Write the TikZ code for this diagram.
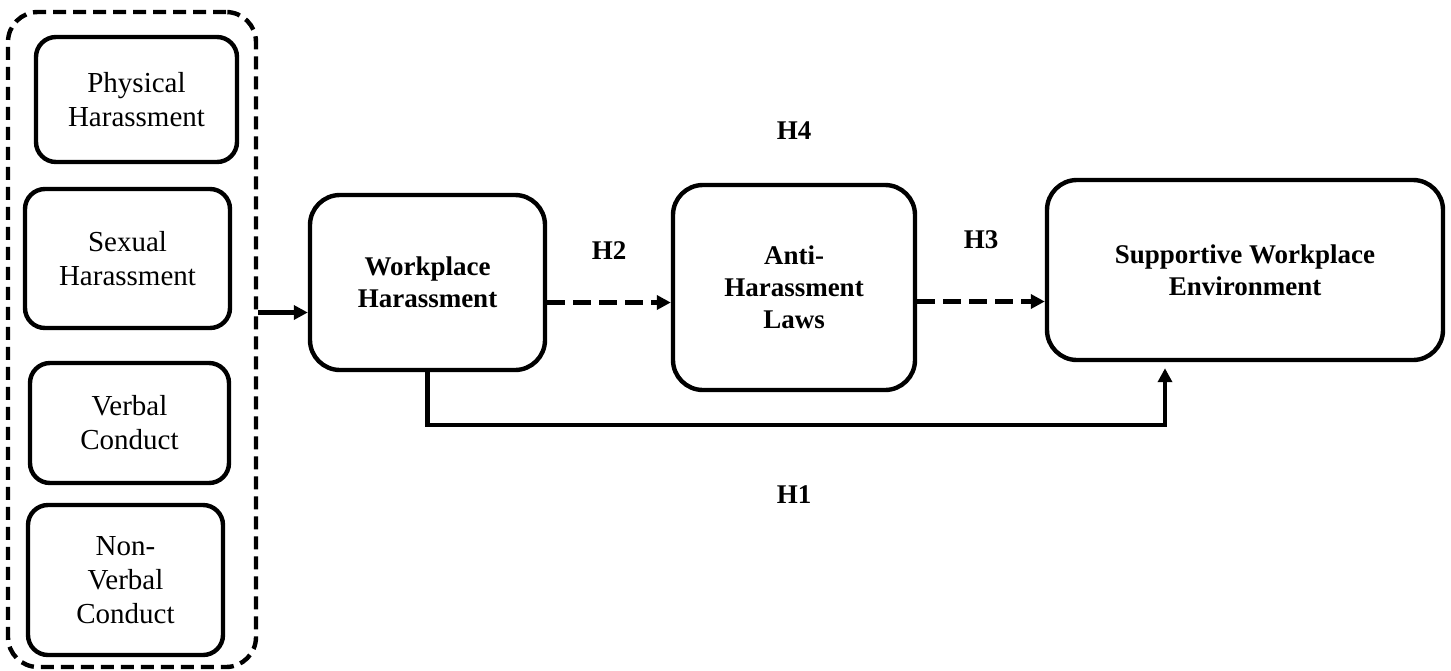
\documentclass[tikz,border=0pt]{standalone}
\usepackage{fontspec}
\setmainfont{Liberation Serif}
\usetikzlibrary{positioning,arrows.meta}

\tikzset{
	itembox/.style={draw, line width=2.2pt, rounded corners=10pt, align=center,
		inner sep=2pt, font=\fontsize{14.5}{17}\selectfont},
	mainbox/.style={draw, line width=2.2pt, rounded corners=15pt, align=center,
		inner sep=2pt, font=\fontsize{13.5}{16}\selectfont\bfseries},
	hyp/.style={font=\fontsize{13.5}{16}\selectfont\bfseries, inner sep=0.5pt},
}

\begin{document}
\begin{tikzpicture}[x=0.5pt, y=-0.5pt, line width=2.2pt, >={Triangle[length=7pt,width=7pt]}]
		\useasboundingbox (0,0) rectangle (1451,670);
		% grouped forms of harassment
		\node[draw, dash pattern=on 6.5pt off 3.5pt, rounded corners=15pt,
			minimum width=124pt, minimum height=327.5pt] (grp) at (132,339.5) {};
		\node[itembox, minimum width=100.5pt, minimum height=62.5pt] (phys) at (136.5,99.5) {Physical\\Harassment};
		\node[itembox, minimum width=102.5pt, minimum height=69.5pt] (sex) at (127.5,258.5) {Sexual\\Harassment};
		\node[itembox, minimum width=99.5pt, minimum height=60pt] (verb) at (129.5,423) {Verbal\\Conduct};
		\node[itembox, minimum width=97.5pt, minimum height=75pt] (nonverb) at (125.5,580) {Non-\\Verbal\\Conduct};
		% main constructs
		\node[mainbox, minimum width=117.5pt, minimum height=87.5pt] (work) at (427.5,282.5) {Workplace\\Harassment};
		\node[mainbox, minimum width=121pt, minimum height=102.5pt] (anti) at (794,287.5) {Anti-\\Harassment\\Laws};
		\node[mainbox, minimum width=198pt, minimum height=90pt] (supp) at (1245,270) {Supportive Workplace\\Environment};
		\node[hyp, above = 20pt of anti] (h4) {H4};
		\node[hyp, below = 45pt of anti] (h1) {H1};
		% connectors
		\coordinate (win) at ([yshift=-15pt]work.west);
		\coordinate (wout) at ([yshift=-10pt]work.east);
		\coordinate (aout) at ([yshift=-7pt]anti.east);
		\draw[->] (grp.east |- win) -- (win);
		\draw[->, dash pattern=on 9pt off 4pt] (wout) -- node[hyp, above = 20pt] (h2) {H2} (anti.west |- wout);
		\draw[->, dash pattern=on 9pt off 4pt] (aout) -- node[hyp, above = 25pt] (h3) {H3} (supp.west |- aout);
		\draw[->] (work.south) -- ++(0,-26.5pt) -| ([xshift=-40pt, yshift=-3pt]supp.south);
\end{tikzpicture}
\end{document}
